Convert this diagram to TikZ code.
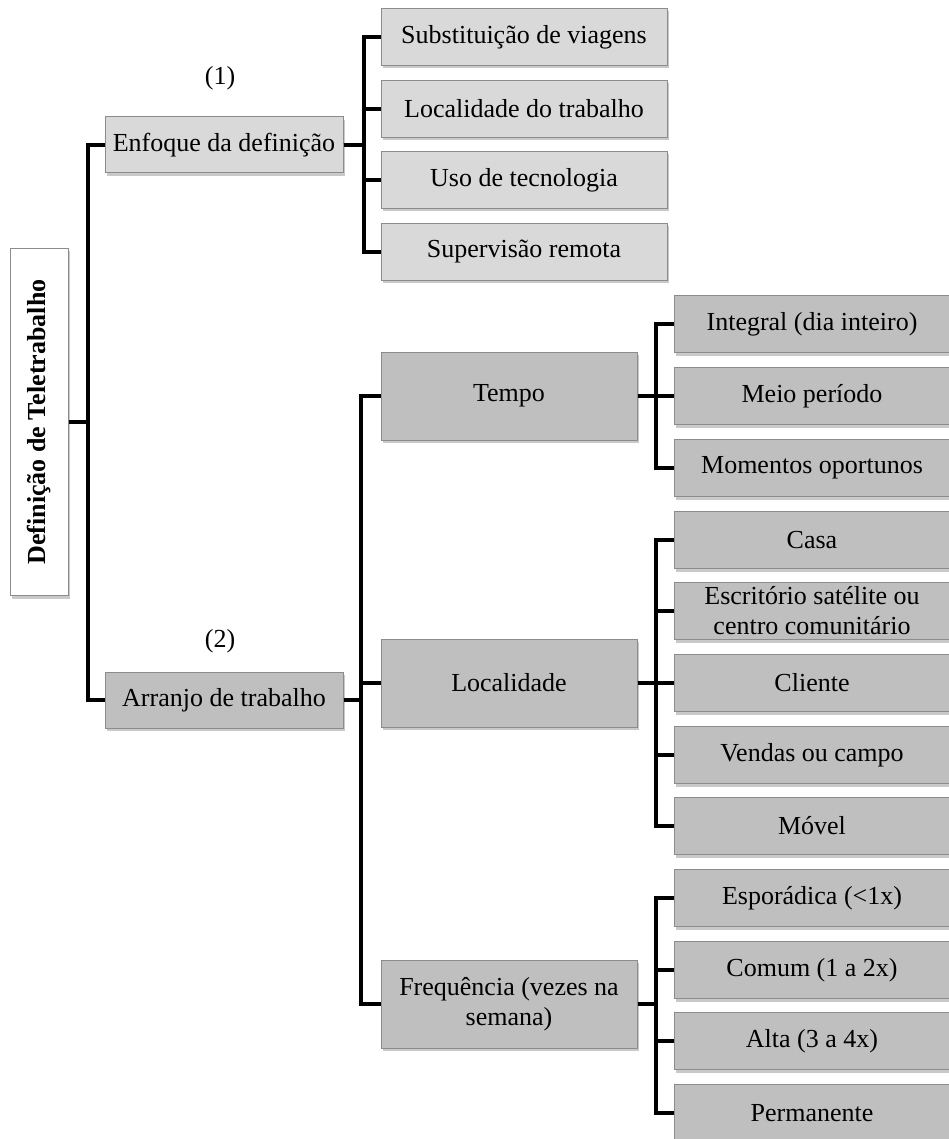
\documentclass[tikz,border=0pt]{standalone}
\usepackage{fontspec}
\setmainfont{Liberation Serif}
\usetikzlibrary{shadows}
\definecolor{boxlight}{HTML}{D9D9D9}
\definecolor{boxdark}{HTML}{BFBFBF}
\definecolor{boxline}{HTML}{8C8C8C}
\tikzset{box/.style = {draw=boxline, line width=1pt, align=center, inner sep=2pt,
    font=\fontsize{26}{30}\selectfont,
    drop shadow={shadow xshift=2pt, shadow yshift=-3pt, opacity=.35, fill=black!60}},
  light/.style = {box, fill=boxlight},
  dark/.style = {box, fill=boxdark},
  topic/.style = {minimum width=238pt, minimum height=56pt},
  subtopic/.style = {light, minimum width=286pt, minimum height=57pt},
  facet/.style = {dark, minimum width=256pt, minimum height=88pt},
  option/.style = {dark, minimum width=276pt, minimum height=57pt},
  link/.style = {line width=4pt, line join=miter}}

\begin{document}
\begin{tikzpicture}[x=1pt, y=-1pt]
  \useasboundingbox[fill=white] (0,0) rectangle (948,1139);
  \node[box, fill=white, rotate=90, minimum width=347pt, minimum height=58pt,
    font=\fontsize{26}{30}\selectfont\bfseries] (root) at (39,422) {Definição de Teletrabalho};
  \node[light, topic] (enf) at (224,145) {Enfoque da definição};
  \node[dark, topic] (arr) at (224,700) {Arranjo de trabalho};
  \node[font=\fontsize{26}{30}\selectfont] (lab1) at (220,78) {(1)};
  \node[font=\fontsize{26}{30}\selectfont] (lab2) at (220,641) {(2)};
  \node[subtopic] (sub) at (524,37) {Substituição de viagens};
  \node[subtopic] (loc) at (524,109) {Localidade do trabalho};
  \node[subtopic] (uso) at (524,180) {Uso de tecnologia};
  \node[subtopic] (sup) at (524,252) {Supervisão remota};
  \node[facet] (tem) at (509,396) {Tempo};
  \node[facet] (lcl) at (509,683) {Localidade};
  \node[facet] (fre) at (509,1004) {Frequência (vezes na\\semana)};
  \node[option] (int) at (812,324) {Integral (dia inteiro)};
  \node[option] (mei) at (812,396) {Meio período};
  \node[option] (mom) at (812,468) {Momentos oportunos};
  \node[option] (cas) at (812,540) {Casa};
  \node[option] (esc) at (812,611) {Escritório satélite ou\\centro comunitário};
  \node[option] (cli) at (812,683) {Cliente};
  \node[option] (ven) at (812,755) {Vendas ou campo};
  \node[option] (mov) at (812,826) {Móvel};
  \node[option] (esp) at (812,898) {Esporádica (<1x)};
  \node[option] (com) at (812,970) {Comum (1 a 2x)};
  \node[option] (alt) at (812,1041) {Alta (3 a 4x)};
  \node[option] (per) at (812,1113) {Permanente};
  \draw[link] (root.south) -- ++(19,0) |- (enf.west);
  \draw[link] (root.south) -- ++(19,0) |- (arr.west);
  \draw[link] (enf.east) -- ++(20,0) |- (sub.west);
  \draw[link] (enf.east) -- ++(20,0) |- (loc.west);
  \draw[link] (enf.east) -- ++(20,0) |- (uso.west);
  \draw[link] (enf.east) -- ++(20,0) |- (sup.west);
  \draw[link] (arr.east) -- ++(17,0) |- (tem.west);
  \draw[link] (arr.east) -- ++(17,0) |- (lcl.west);
  \draw[link] (arr.east) -- ++(17,0) |- (fre.west);
  \draw[link] (tem.east) -- ++(18,0) |- (int.west);
  \draw[link] (tem.east) -- ++(18,0) |- (mei.west);
  \draw[link] (tem.east) -- ++(18,0) |- (mom.west);
  \draw[link] (lcl.east) -- ++(18,0) |- (cas.west);
  \draw[link] (lcl.east) -- ++(18,0) |- (esc.west);
  \draw[link] (lcl.east) -- ++(18,0) |- (cli.west);
  \draw[link] (lcl.east) -- ++(18,0) |- (ven.west);
  \draw[link] (lcl.east) -- ++(18,0) |- (mov.west);
  \draw[link] (fre.east) -- ++(18,0) |- (esp.west);
  \draw[link] (fre.east) -- ++(18,0) |- (com.west);
  \draw[link] (fre.east) -- ++(18,0) |- (alt.west);
  \draw[link] (fre.east) -- ++(18,0) |- (per.west);
\end{tikzpicture}
\end{document}
